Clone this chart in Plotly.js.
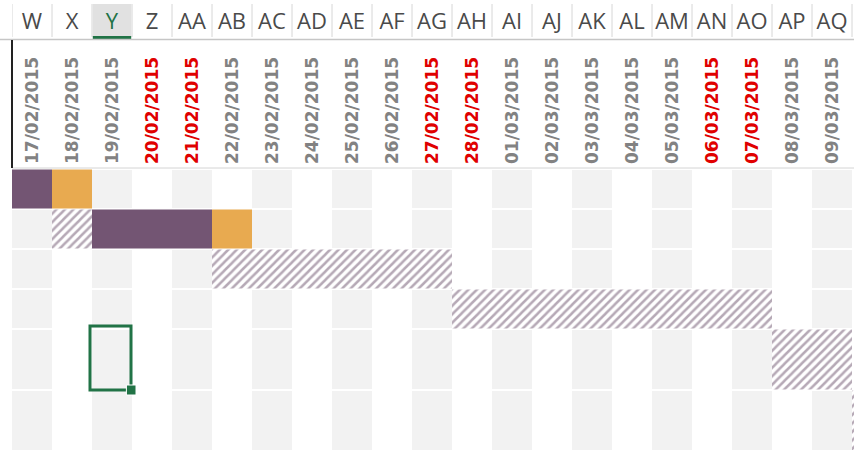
<!DOCTYPE html>
<html>
<head>
<meta charset="utf-8">
<script src="https://cdn.plot.ly/plotly-3.0.1.min.js"></script>
<style>
  html, body { margin: 0; padding: 0; background: #ffffff; }
  #chart { width: 854px; height: 450px; }
</style>
</head>
<body>
<div id="chart"></div>
<script>
// ---------- data ----------
const columnLetters = ['W','X','Y','Z','AA','AB','AC','AD','AE','AF','AG','AH','AI','AJ','AK','AL','AM','AN','AO','AP','AQ'];
const dates = ['17/02/2015','18/02/2015','19/02/2015','20/02/2015','21/02/2015','22/02/2015','23/02/2015',
               '24/02/2015','25/02/2015','26/02/2015','27/02/2015','28/02/2015','01/03/2015','02/03/2015',
               '03/03/2015','04/03/2015','05/03/2015','06/03/2015','07/03/2015','08/03/2015','09/03/2015'];
const redDates = ['20/02/2015','21/02/2015','27/02/2015','28/02/2015','06/03/2015','07/03/2015'];

// task rows (1-based), start column index, duration in days
const actualRow   = [1, 2];
const actualStart = [0, 2];
const actualDays  = [1, 3];

const remainRow   = [1, 2];
const remainStart = [1, 5];
const remainDays  = [1, 1];

const planRow     = [2, 3, 4, 5, 6];
const planStart   = [1, 5, 11, 19, 21];
const planDays    = [1, 6, 8, 2, 1];

const selectedColumn = 'Y';
const selectedRow = 5;

// ---------- layout geometry ----------
const rowHeights = [40, 40, 40, 40, 61, 62];
const rowEdges = [0];
rowHeights.forEach(h => rowEdges.push(rowEdges[rowEdges.length - 1] + h));
const rowCenter = r => (rowEdges[r - 1] + rowEdges[r]) / 2;
const rowH = r => rowHeights[r - 1];

const W = 854, H = 450, TOP = 169, LEFT = 12;
const plotH = H - TOP;
const py = p => 1 + (TOP - p) / plotH; // pixel y -> paper y

const nCols = columnLetters.length;
const colEdges = [];
for (let i = 0; i <= nCols; i++) colEdges.push(i);
const colCenters = columnLetters.map((_, i) => i + 0.5);

// background checker (alternating grey / white columns)
const bgZ = rowHeights.map(() => columnLetters.map((_, i) => i % 2));

const purple = '#735573';
const orange = '#e8aa50';
const green = '#217346';

const traces = [
  {
    type: 'heatmap', x: colEdges, y: rowEdges, z: bgZ,
    colorscale: [[0, '#f2f2f2'], [1, '#ffffff']], showscale: false,
    xgap: 0, ygap: 2, hoverinfo: 'skip', zmin: 0, zmax: 1
  },
  {
    type: 'bar', orientation: 'h', name: 'actual',
    y: actualRow.map(rowCenter), base: actualStart, x: actualDays,
    width: actualRow.map(r => rowH(r) - 1),
    marker: { color: purple, line: { width: 0 } }
  },
  {
    type: 'bar', orientation: 'h', name: 'remaining',
    y: remainRow.map(rowCenter), base: remainStart, x: remainDays,
    width: remainRow.map(r => rowH(r) - 1),
    marker: { color: orange, line: { width: 0 } }
  },
  {
    type: 'bar', orientation: 'h', name: 'planned',
    y: planRow.map(rowCenter), base: planStart, x: planDays,
    width: planRow.map(r => rowH(r) - 1),
    marker: {
      color: '#ffffff', line: { width: 0 },
      pattern: { shape: '/', fgcolor: '#6e536e', bgcolor: '#ffffff', size: 6, solidity: 0.42, fillmode: 'overlay' }
    }
  }
];

const dateText = dates.map(d => redDates.includes(d)
  ? '<span style="color:#e00000">' + d + '</span>' : d);
const letterText = columnLetters.map(c => c === selectedColumn
  ? '<span style="color:' + green + '">' + c + '</span>' : c);

const shapes = [];
// header separators
for (let i = 0; i <= nCols; i++) {
  shapes.push({ type: 'line', xref: 'x', yref: 'paper', x0: i, x1: i, y0: py(4), y1: py(37),
                line: { color: '#d6d6d6', width: 1 }, layer: 'below' });
}
// selected column header highlight
const selIdx = columnLetters.indexOf(selectedColumn);
shapes.push({ type: 'rect', xref: 'x', yref: 'paper', x0: selIdx + 0.02, x1: selIdx + 1 - 0.02,
              y0: py(4), y1: py(36), fillcolor: '#e1e1e1', line: { width: 0 }, layer: 'below' });
shapes.push({ type: 'rect', xref: 'x', yref: 'paper', x0: selIdx + 0.02, x1: selIdx + 1 - 0.02,
              y0: py(36), y1: py(39), fillcolor: green, line: { width: 0 }, layer: 'below' });
// header bottom border
shapes.push({ type: 'line', xref: 'paper', yref: 'paper', x0: -LEFT / (W - LEFT), x1: 1, y0: py(39.5), y1: py(39.5),
              line: { color: '#c6c6c6', width: 1.5 }, layer: 'below' });
// left border of date row
shapes.push({ type: 'line', xref: 'paper', yref: 'paper', x0: 0, x1: 0, y0: py(40), y1: py(168),
              line: { color: '#222222', width: 2 } });
// date row bottom border
shapes.push({ type: 'line', xref: 'paper', yref: 'paper', x0: 0, x1: 1, y0: py(168), y1: py(168),
              line: { color: '#d4d4d4', width: 1 }, layer: 'below' });
// selection box
const sTop = rowEdges[selectedRow - 1], sBot = rowEdges[selectedRow];
shapes.push({ type: 'rect', xref: 'x', yref: 'y', x0: selIdx - 0.05, x1: selIdx + 1 - 0.025,
              y0: sTop - 3, y1: sBot, line: { color: green, width: 3 }, fillcolor: 'rgba(0,0,0,0)' });
shapes.push({ type: 'rect', xref: 'x', yref: 'y', x0: selIdx + 1 - 0.14, x1: selIdx + 1 + 0.1,
              y0: sBot - 5, y1: sBot + 5, line: { color: '#ffffff', width: 1 }, fillcolor: green });

const layout = {
  width: W, height: H,
  margin: { l: LEFT, r: 0, t: TOP, b: 0, pad: 0 },
  paper_bgcolor: '#ffffff', plot_bgcolor: '#ffffff',
  showlegend: false, barmode: 'overlay',
  xaxis: {
    type: 'linear', range: [0, nCols + 0.05], side: 'top',
    tickmode: 'array', tickvals: colCenters, ticktext: dateText, tickangle: -90,
    tickfont: { family: 'DejaVu Sans', size: 17, weight: 'bold', color: '#828282' },
    ticks: '', showgrid: false, zeroline: false, showline: false, fixedrange: true,
    ticklabelstandoff: 4
  },
  xaxis2: {
    type: 'linear', range: [0, nCols + 0.05], overlaying: 'x', side: 'top', anchor: 'y',
    tickmode: 'array', tickvals: colCenters, ticktext: letterText, tickangle: 0,
    tickfont: { family: 'Open Sans', size: 22, color: '#4a4a4a' },
    ticks: '', showgrid: false, zeroline: false, showline: false, fixedrange: true,
    ticklabelstandoff: 135
  },
  yaxis: {
    type: 'linear', range: [plotH, 0], showticklabels: false, ticks: '',
    showgrid: false, zeroline: false, showline: false, fixedrange: true
  },
  shapes: shapes
};

// invisible trace so xaxis2 is drawn
traces.push({ type: 'scatter', x: [0], y: [0], xaxis: 'x2', yaxis: 'y', mode: 'markers',
              marker: { opacity: 0 }, hoverinfo: 'skip' });

Plotly.newPlot('chart', traces, layout, { staticPlot: true, displayModeBar: false });
</script>
</body>
</html>
